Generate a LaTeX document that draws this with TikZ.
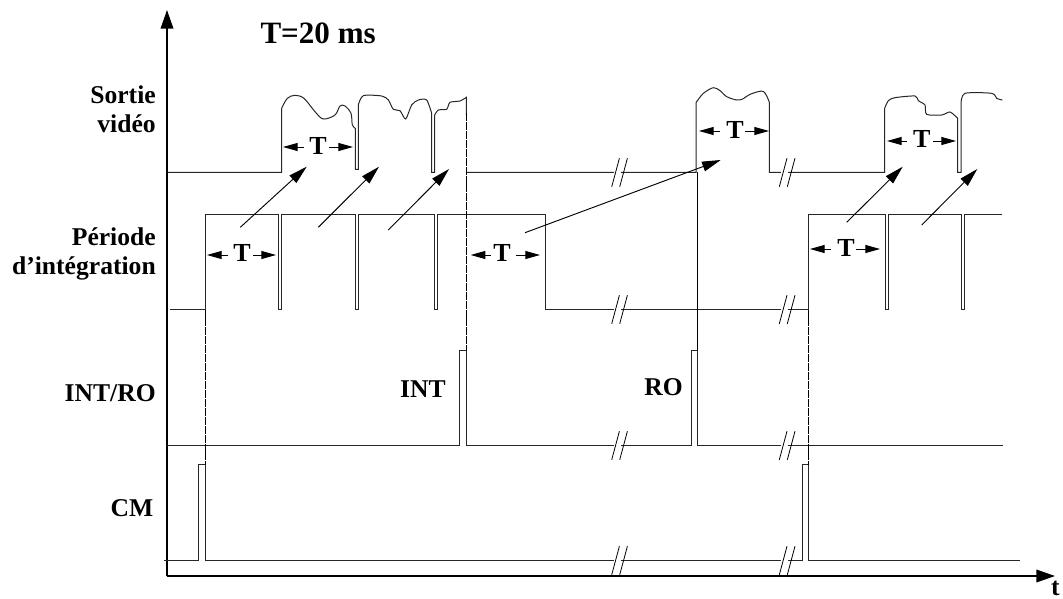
\documentclass[tikz,border=0pt]{standalone}
\usepackage{fontspec}
\setmainfont{Liberation Serif}
\usetikzlibrary{arrows.meta}
\tikzset{
  sig/.style={line width=0.75pt,black!85,line join=miter},
  dsh/.style={line width=0.75pt,black,dash pattern=on 6pt off 0.7pt},
  ax/.style={line width=1.1pt,black,-{Triangle[length=14pt,width=9.5pt]}},
  dim/.style={line width=0.7pt,black,-{Triangle[length=11pt,width=6pt]}},
  diag/.style={line width=0.7pt,black,-{Triangle[length=14pt,width=7.5pt]}},
  lab/.style={font=\fontsize{19.2}{20}\selectfont\bfseries,inner sep=0pt,anchor=base east},
  tlab/.style={font=\fontsize{19.5}{20}\selectfont\bfseries,inner sep=0pt},
  slash/.style={line width=0.6pt,black},
}
\newcommand{\brk}[2]{%
  \fill[white] (#1+2,#2-3) rectangle (#1+9,#2+3);
  \draw[slash] (#1,#2+14.3) -- (#1+7.7,#2-14.3);
  \draw[slash] (#1+8,#2+14.3) -- (#1+15.7,#2-14.3);
}
\begin{document}
\begin{tikzpicture}[x=0.75pt,y=-0.75pt]
\useasboundingbox (0,0) rectangle (1063,599);
% axes
\coordinate (o) at (167,576);
\coordinate (yt) at (167,10);
\coordinate (xt) at (1055,576);
\draw[ax] (o) -- (yt);
\draw[ax] (o) -- (xt);
% video, drawn in zoom coordinates
\begin{scope}[shift={(160,70)},x=0.25pt,y=-0.25pt]
\draw[sig] (22,307.5) -- (365,307.5) -- (365,115)
  plot[smooth,tension=0.55] coordinates {(365,115) (382,85) (405,76) (432,85) (465,125) (490,147) (525,135) (540,108) (555,108) (573,130) (577,165) (586,175)}
  -- (586,298) -- (595,298) -- (595,105)
  plot[smooth,tension=0.45] coordinates {(595,105) (610,77) (665,78) (685,90) (700,118) (720,122) (737,147) (755,105) (775,90) (800,90) (815,130)}
  -- (815,307) -- (824,307) -- (824,135)
  plot[smooth,tension=0.4] coordinates {(824,135) (835,120) (860,118) (870,97) (900,93) (919,82)}
  -- (919,135);
\end{scope}
\begin{scope}[shift={(500,70)},x=0.25pt,y=-0.25pt]
\draw[sig] (-100,307.5) -- (588,307.5) -- (588,98)
  plot[smooth,tension=0.5] coordinates {(588,98) (610,70) (640,53) (660,62) (680,80) (710,90) (728,87) (750,73) (790,64) (808,97)}
  -- (808,307.5) -- (1155,307.5);
\end{scope}
\begin{scope}[shift={(770,70)},x=0.25pt,y=-0.25pt]
\draw[sig] (344,307.5) -- (344,115)
  plot[smooth,tension=0.45] coordinates {(344,115) (355,92) (375,83) (435,78) (445,92) (465,105) (470,133) (515,135) (540,126) (563,145)}
  -- (563,307) -- (573,307) -- (573,100)
  plot[smooth,tension=0.45] coordinates {(573,100) (585,70) (665,70) (680,85) (697,90)};
\end{scope}
% integration
\draw[sig] (170,309.5) -- (205.5,309.5) -- (205.5,214.5) -- (278.5,214.5) -- (278.5,309.5) -- (281.5,309.5) -- (281.5,214.5)
  -- (355,214.5) -- (355,309.5) -- (358,309.5) -- (358,214.5) -- (434.5,214.5) -- (434.5,309.5) -- (437.5,309.5) -- (437.5,214.5)
  -- (545.5,214.5) -- (545.5,309.5) -- (808.5,309.5) -- (808.5,214.5) -- (885,214.5) -- (885,309.5) -- (888,309.5) -- (888,214.5)
  -- (961.5,214.5) -- (961.5,309.5) -- (964.5,309.5) -- (964.5,214.5) -- (1002,214.5);
% INT/RO
\draw[sig] (167,445.5) -- (459.5,445.5) -- (459.5,350.5) -- (466,350.5) -- (466,445.5) -- (691,445.5) -- (691,350.5) -- (697.5,350.5) -- (697.5,445.5) -- (1003,445.5);
% CM
\draw[sig] (164,560.5) -- (198.7,560.5) -- (198.7,464.7) -- (205.5,464.7) -- (205.5,560.5) -- (802.3,560.5) -- (802.3,464.7) -- (808.5,464.7) -- (808.5,560.5) -- (1020,560.5);
% verticals
\draw[dsh] (205.5,309.5) -- (205.5,464.7);
\draw[dsh] (466,113) -- (466,350.5);
\draw[sig,black] (697.5,172.5) -- (697.5,350.5);
\draw[dsh] (808.5,309.5) -- (808.5,464.7);
% breaks
\brk{611.7}{172.5}\brk{779.3}{172.5}
\brk{611.7}{309.5}\brk{779.3}{309.5}
\brk{611.7}{445.5}\brk{779.3}{445.5}
\brk{611.7}{560.5}\brk{779.3}{560.5}
% T dims
\node[tlab] (t1) at (318,145.5) {T};
\coordinate (t1l) at (283,147); \coordinate (t1r) at (353,147);
\draw[dim] (304,147) -- (t1l); \draw[dim] (329,147) -- (t1r);
\node[tlab] (t2) at (242,253) {T};
\coordinate (t2l) at (207,255); \coordinate (t2r) at (276,255);
\draw[dim] (228,255) -- (t2l); \draw[dim] (253,255) -- (t2r);
\node[tlab] (t3) at (502,253) {T};
\coordinate (t3l) at (470.7,255); \coordinate (t3r) at (540,255);
\draw[dim] (491,255) -- (t3l); \draw[dim] (516,255) -- (t3r);
\node[tlab] (t4) at (735,129.5) {T};
\coordinate (t4l) at (699,131); \coordinate (t4r) at (769,131);
\draw[dim] (720,131) -- (t4l); \draw[dim] (745,131) -- (t4r);
\node[tlab] (t5) at (846,247.5) {T};
\coordinate (t5l) at (810,249); \coordinate (t5r) at (880,249);
\draw[dim] (831,249) -- (t5l); \draw[dim] (856,249) -- (t5r);
\node[tlab] (t6) at (921.7,139) {T};
\coordinate (t6l) at (887,141); \coordinate (t6r) at (956,141);
\draw[dim] (907,141) -- (t6l); \draw[dim] (933,141) -- (t6r);
% diagonal arrows
\coordinate (d1a) at (240.3,227.3); \coordinate (d1b) at (306.7,166.7);
\coordinate (d2a) at (318.3,227.3); \coordinate (d2b) at (379,166.7);
\coordinate (d3a) at (388.3,230); \coordinate (d3b) at (449,169);
\coordinate (d4a) at (525,232.7); \coordinate (d4b) at (720.7,160);
\coordinate (d5a) at (846.7,222.3); \coordinate (d5b) at (902.7,166.7);
\coordinate (d6a) at (921.7,225); \coordinate (d6b) at (977.3,169);
\foreach \i in {1,...,6} \draw[diag] (d\i a) -- (d\i b);
% labels
\node[lab] (title) at (376,44) {\fontsize{23.3}{24}\selectfont T=20 ms};
\node[lab] (s1) at (156,104) {Sortie};
\node[lab] (s2) at (156,133) {vidéo};
\node[lab] (p1) at (156,245) {Période};
\node[lab] (p2) at (156,274) {d’intégration};
\node[lab] (ir) at (156,401) {INT/RO};
\node[lab] (cm) at (153.5,516) {CM};
\node[lab] (intl) at (446,397) {INT};
\node[lab] (ro) at (683,395) {RO};
\node[lab] (tt) at (1060,595.5) {t};
\end{tikzpicture}
\end{document}
